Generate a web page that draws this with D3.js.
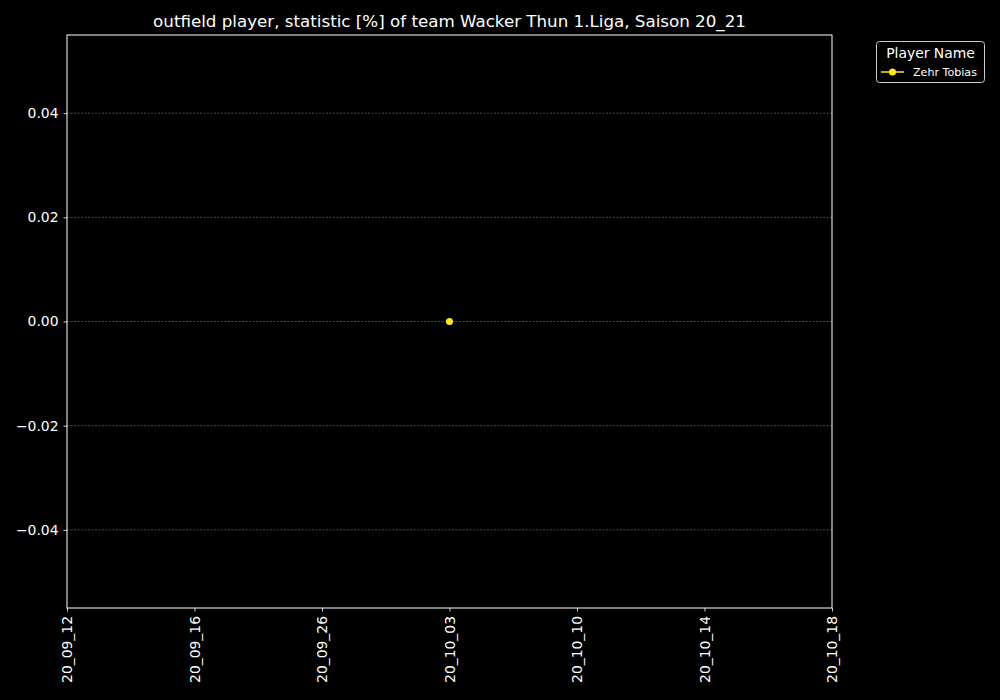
<!DOCTYPE html>
<html>
<head>
<meta charset="utf-8">
<script src="https://cdn.jsdelivr.net/npm/d3@7"></script>
<style>
  html, body { margin: 0; padding: 0; background: #000; }
  svg { display: block; font-family: "DejaVu Sans", sans-serif; }
</style>
</head>
<body>
<svg id="chart" width="1000" height="700"></svg>
<script>
const categories = ["20_09_12", "20_09_16", "20_09_26", "20_10_03", "20_10_10", "20_10_14", "20_10_18"];
const seriesName = "Zehr Tobias";
const seriesValues = [null, null, null, 0.0, null, null, null];
const yTicks = [-0.04, -0.02, 0.0, 0.02, 0.04];
const yDomain = [-0.055, 0.055];
const titleText = "outfield player, statistic [%] of team Wacker Thun 1.Liga, Saison 20_21";
const legendTitle = "Player Name";

const svg = d3.select("#chart");
const margin = {left: 67, right: 168, top: 35, bottom: 92};
const W = 1000, H = 700;
const x = d3.scalePoint().domain(categories).range([margin.left, W - margin.right]).padding(0);
const y = d3.scaleLinear().domain(yDomain).range([H - margin.bottom, margin.top]);
const color = "#fde725";

svg.append("rect").attr("width", W).attr("height", H).attr("fill", "#000");

// grid
svg.append("g").selectAll("line").data(yTicks).join("line")
  .attr("x1", margin.left).attr("x2", W - margin.right)
  .attr("y1", d => y(d)).attr("y2", d => y(d))
  .attr("stroke", "#808080").attr("stroke-width", 0.6).attr("stroke-dasharray", "2,1.5");

// axes
const fmt = d => (d < 0 ? "\u2212" : "") + Math.abs(d).toFixed(2);
const yAxis = svg.append("g").attr("transform", `translate(${margin.left},0)`)
  .call(d3.axisLeft(y).tickValues(yTicks).tickFormat(fmt).tickSize(3.5).tickPadding(5));
const xAxis = svg.append("g").attr("transform", `translate(0,${H - margin.bottom})`)
  .call(d3.axisBottom(x).tickSize(3.5));
[yAxis, xAxis].forEach(a => {
  a.select(".domain").remove();
  a.selectAll("line").attr("stroke", "#fff").attr("stroke-width", 0.8);
  a.selectAll("text").attr("fill", "#fff").attr("font-size", 13.9).attr("font-family", "DejaVu Sans, sans-serif");
});
xAxis.selectAll("text")
  .attr("transform", "rotate(-90)")
  .attr("text-anchor", "end")
  .attr("x", -8).attr("y", 0).attr("dy", "0.35em");

// frame
svg.append("rect").attr("x", margin.left).attr("y", margin.top)
  .attr("width", W - margin.right - margin.left).attr("height", H - margin.bottom - margin.top)
  .attr("fill", "none").attr("stroke", "#fff").attr("stroke-width", 1);

// series
const pts = categories.map((c, i) => ({c, v: seriesValues[i]}));
const line = d3.line().defined(d => d.v !== null).x(d => x(d.c)).y(d => y(d.v));
svg.append("path").datum(pts).attr("d", line).attr("fill", "none").attr("stroke", color).attr("stroke-width", 1.5);
svg.append("g").selectAll("circle").data(pts.filter(d => d.v !== null)).join("circle")
  .attr("cx", d => x(d.c)).attr("cy", d => y(d.v)).attr("r", 3.5).attr("fill", color);

// title
svg.append("text").attr("x", (margin.left + W - margin.right) / 2).attr("y", 27)
  .attr("text-anchor", "middle").attr("fill", "#fff").attr("font-size", 16.7).text(titleText);

// legend
const lg = svg.append("g");
lg.append("rect").attr("x", 876.5).attr("y", 41.5).attr("width", 108).attr("height", 41).attr("rx", 3)
  .attr("fill", "#000").attr("stroke", "#ccc").attr("stroke-width", 1);
lg.append("text").attr("x", 930.5).attr("y", 58).attr("text-anchor", "middle").attr("fill", "#fff")
  .attr("font-size", 13.9).text(legendTitle);
lg.append("line").attr("x1", 881).attr("x2", 904).attr("y1", 72).attr("y2", 72).attr("stroke", color).attr("stroke-width", 1.5);
lg.append("circle").attr("cx", 892.5).attr("cy", 72).attr("r", 3.5).attr("fill", color);
lg.append("text").attr("x", 913).attr("y", 76).attr("fill", "#fff").attr("font-size", 11.1).text(seriesName);
</script>
</body>
</html>
